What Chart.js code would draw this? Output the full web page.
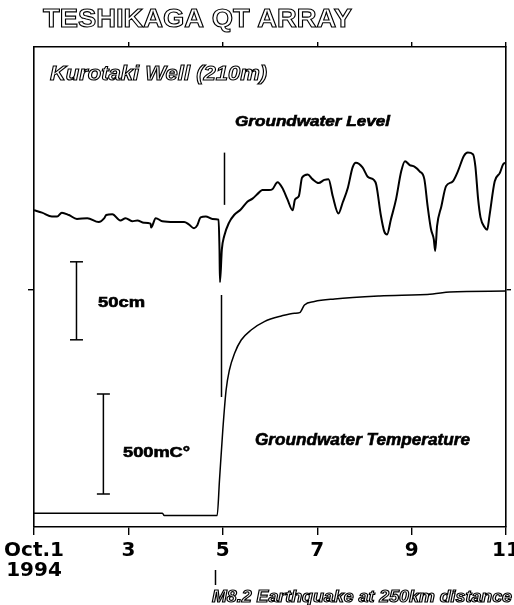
<!DOCTYPE html>
<html>
<head>
<meta charset="utf-8">
<script src="https://cdn.jsdelivr.net/npm/chart.js@4.4.0/dist/chart.umd.min.js"></script>
<style>
  html, body { margin: 0; padding: 0; background: #fff; }
</style>
</head>
<body>
<canvas id="wellChart" width="514" height="605"></canvas>
<script>
// time axis: day of October 1994 (1 = Oct 1 00:00)
const levelDays = [1.0, 1.17, 1.38, 1.49, 1.59, 1.74, 1.91, 2.13, 2.37, 2.49,
  2.53, 2.66, 2.83, 2.94, 3.08, 3.19, 3.33, 3.47, 3.48, 3.58,
  3.72, 3.97, 4.18, 4.28, 4.39, 4.46, 4.53, 4.64, 4.78, 4.91,
  4.93, 4.94, 4.98, 5.03, 5.13, 5.24, 5.38, 5.52, 5.63, 5.77,
  5.84, 5.98, 6.05, 6.16, 6.26, 6.37, 6.48, 6.53, 6.61, 6.68,
  6.80, 6.90, 7.03, 7.15, 7.24, 7.33, 7.45, 7.54, 7.65, 7.75,
  7.82, 7.96, 8.07, 8.20, 8.25, 8.35, 8.42, 8.48, 8.56, 8.67,
  8.78, 8.86, 8.96, 9.06, 9.17, 9.27, 9.34, 9.41, 9.47, 9.50,
  9.54, 9.63, 9.73, 9.87, 9.98, 10.11, 10.19, 10.30, 10.35, 10.41,
  10.46, 10.55, 10.60, 10.65, 10.76, 10.87, 10.94, 11.0];
// groundwater level, cm (relative)
const levelCm = [51, 49.5, 47, 47, 49.5, 48, 45.5, 46, 43.5, 46,
  48, 48.5, 44.5, 46, 44, 44.5, 43, 42.5, 40, 46,
  44, 43.5, 43.5, 42, 39.5, 41.5, 46.5, 47, 45.5, 45,
  26, 5, 26, 34.5, 43, 48, 51.5, 56.5, 58.5, 62.5,
  64, 64, 64.5, 69, 65.5, 58, 51, 58, 60, 72,
  74, 71, 68.5, 70.5, 71, 60, 49, 56, 65.5, 78.5,
  81.5, 78.5, 72.5, 70.5, 67.5, 47.5, 37.5, 35.5, 45, 58,
  76, 82.5, 80, 79, 76, 71, 53.5, 39, 32.5, 25,
  41, 53.5, 66.5, 69.5, 76, 86, 88, 87, 79.5, 58,
  46.5, 40, 38.5, 47.5, 69.5, 75, 80.5, 81.5];

const tempDays = [1.0, 3.72, 3.76, 4.88, 4.93, 5.00, 5.07, 5.14, 5.25, 5.39, 5.60,
  5.88, 6.24, 6.52, 6.63, 6.73, 6.94, 7.37, 8.32, 9.45, 9.81, 11.0];
// groundwater temperature, mC (relative)
const tempMc = [14, 14, 2, 2, 180, 430, 630, 730, 814, 880, 930,
  972, 1000, 1014, 1017, 1055, 1072, 1085, 1100, 1110, 1120, 1125];

const tickDays = [1, 3, 5, 7, 9, 11];
const tickLabels = [['Oct.1', '1994'], '3', '5', '7', '9', '11'];
const quakeDay = 4.93;
const barCm = [-32, 18];
const barMc = [110, 610];

function txt(ctx, str, x, y, font, w, outline) {
  ctx.save();
  ctx.font = font;
  const sx = w / ctx.measureText(str).width;
  ctx.translate(x, y);
  ctx.scale(sx, 1);
  ctx.textAlign = 'left';
  ctx.textBaseline = 'alphabetic';
  ctx.strokeStyle = '#000';
  if (outline) {
    ctx.fillStyle = '#fff';
    ctx.fillText(str, 0, 0);
    ctx.lineWidth = 1.1;
    ctx.strokeText(str, 0, 0);
  } else {
    ctx.fillStyle = '#000';
    ctx.fillText(str, 0, 0);
    ctx.lineWidth = 0.6;
    ctx.strokeText(str, 0, 0);
  }
  ctx.restore();
}

function line(ctx, x0, y0, x1, y1) {
  ctx.beginPath();
  ctx.moveTo(x0, y0);
  ctx.lineTo(x1, y1);
  ctx.stroke();
}

const overlay = {
  id: 'overlay',
  afterDraw(chart) {
    const ctx = chart.ctx;
    const area = chart.chartArea;
    const x = chart.scales.x, yL = chart.scales.y, yT = chart.scales.yT;
    ctx.save();
    ctx.strokeStyle = '#000';
    ctx.lineWidth = 1.5;

    // earthquake marker (broken where the traces cross it)
    const qx = x.getPixelForValue(quakeDay);
    line(ctx, qx + 5, yL.getPixelForValue(88), qx + 5, yL.getPixelForValue(54.5));
    line(ctx, qx + 2, yT.getPixelForValue(1105), qx + 2, yT.getPixelForValue(595));
    line(ctx, qx - 4, area.bottom + 43, qx - 4, area.bottom + 58);

    // scale bars
    const bars = [[1.9, yL, barCm], [2.47, yT, barMc]];
    bars.forEach(([d, sc, r]) => {
      const bx = x.getPixelForValue(d);
      const top = sc.getPixelForValue(r[1]), bot = sc.getPixelForValue(r[0]);
      line(ctx, bx, top, bx, bot);
      line(ctx, bx - 6.5, top, bx + 6.5, top);
      line(ctx, bx - 6.5, bot, bx + 6.5, bot);
    });
    ctx.restore();

    txt(ctx, 'TESHIKAGA QT ARRAY', 43, 27, 'bold 26px "Liberation Sans"', 309, true);
    txt(ctx, 'Kurotaki Well (210m)', 50, 80, 'italic bold 21px "Liberation Sans"', 217, true);
    txt(ctx, 'Groundwater Level', 235, 126, 'italic bold 14px "Liberation Sans"', 155, false);
    txt(ctx, 'Groundwater Temperature', 255, 445, 'italic bold 16px "Liberation Sans"', 215, false);
    txt(ctx, '50cm', 98, 306.5, 'bold 14px "Liberation Sans"', 47, false);
    txt(ctx, '500mC°', 123, 457, 'bold 14px "Liberation Sans"', 67, false);
    txt(ctx, 'M8.2 Earthquake at 250km distance', 212, 602, 'italic bold 16px "Liberation Sans"', 300, true);
  }
};

const frameGrid = { display: true, drawOnChartArea: false, drawTicks: true, tickLength: 6, color: '#000', lineWidth: 1.4 };
const frameBorder = { display: true, color: '#000', width: 1.6 };

new Chart(document.getElementById('wellChart'), {
  type: 'line',
  data: {
    datasets: [{
      label: 'Groundwater Level',
      data: levelDays.map((d, i) => ({ x: d, y: levelCm[i] })),
      yAxisID: 'y',
      borderColor: '#000',
      borderWidth: 2,
      pointRadius: 0,
      cubicInterpolationMode: 'monotone'
    }, {
      label: 'Groundwater Temperature',
      data: tempDays.map((d, i) => ({ x: d, y: tempMc[i] })),
      yAxisID: 'yT',
      borderColor: '#000',
      borderWidth: 1.5,
      pointRadius: 0,
      cubicInterpolationMode: 'monotone'
    }]
  },
  options: {
    responsive: false,
    animation: false,
    devicePixelRatio: 1,
    layout: { padding: 0 },
    plugins: { legend: { display: false }, tooltip: { enabled: false } },
    scales: {
      x: {
        type: 'linear', position: 'bottom', min: 1, max: 11,
        afterBuildTicks: s => { s.ticks = tickDays.map(v => ({ value: v })); },
        afterFit: s => { s.height = 78; s.paddingLeft = 0; s.paddingRight = 0; },
        ticks: {
          autoSkip: false, maxRotation: 0, padding: 6, color: '#000',
          font: { family: 'DejaVu Sans', weight: 'bold', size: 20, lineHeight: 1 },
          callback: (v, i) => tickLabels[i]
        },
        grid: { ...frameGrid, tickLength: 8 },
        border: frameBorder
      },
      x2: {
        type: 'linear', position: 'top', min: 1, max: 11,
        afterBuildTicks: s => { s.ticks = tickDays.slice(1).map(v => ({ value: v })); },
        afterFit: s => { s.height = 47; s.paddingLeft = 0; s.paddingRight = 0; },
        ticks: { display: false },
        grid: { ...frameGrid, tickLength: 5 },
        border: frameBorder
      },
      y: {
        type: 'linear', position: 'left', min: -152, max: 155.7,
        afterBuildTicks: s => { s.ticks = [{ value: 0 }]; },
        afterFit: s => { s.width = 34; },
        ticks: { display: false },
        grid: frameGrid,
        border: frameBorder
      },
      yR: {
        type: 'linear', position: 'right', min: -152, max: 155.7,
        afterBuildTicks: s => { s.ticks = [{ value: 0 }]; },
        afterFit: s => { s.width = 8; },
        ticks: { display: false },
        grid: { ...frameGrid, tickLength: 5 },
        border: frameBorder
      },
      yT: {
        type: 'linear', display: false, min: -55, max: 2345
      }
    }
  },
  plugins: [overlay]
});
</script>
</body>
</html>
